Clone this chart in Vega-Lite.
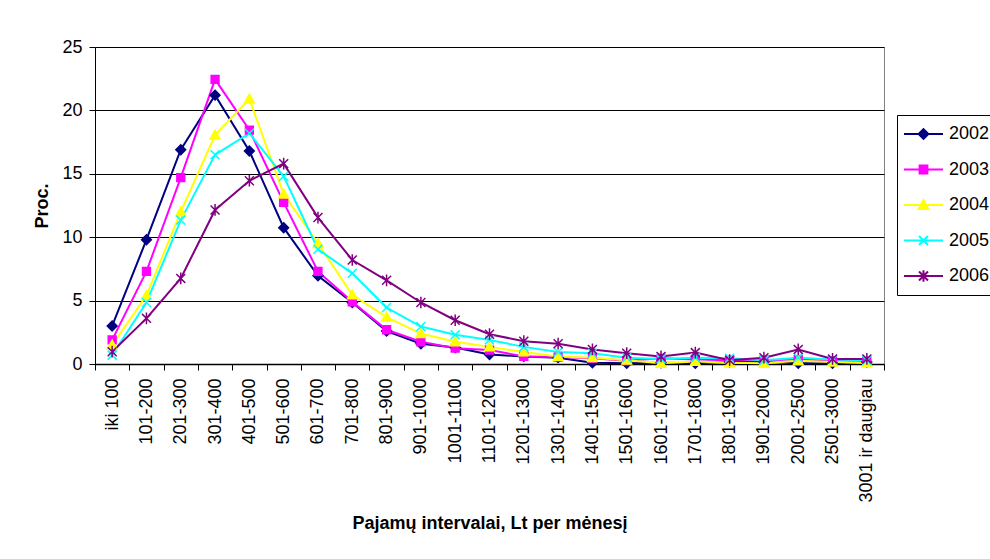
{
  "$schema": "https://vega.github.io/schema/vega-lite/v6.json",
  "autosize": {"type": "none"},
  "width": 789,
  "height": 317,
  "padding": {"left": 95, "top": 47, "right": 106, "bottom": 195},
  "background": "white",
  "config": {
    "font": "Liberation Sans",
    "view": {"stroke": "#808080", "strokeWidth": 1},
    "axis": {"labelFont": "Liberation Sans", "titleFont": "Liberation Sans", "labelColor": "#000", "titleColor": "#000", "domainColor": "#000", "tickColor": "#000"}
  },
  "data": {
    "values": [
      {"interval": "iki 100", "year": "2002", "value": 3.0},
      {"interval": "101-200", "year": "2002", "value": 9.8},
      {"interval": "201-300", "year": "2002", "value": 16.9},
      {"interval": "301-400", "year": "2002", "value": 21.2},
      {"interval": "401-500", "year": "2002", "value": 16.8},
      {"interval": "501-600", "year": "2002", "value": 10.75},
      {"interval": "601-700", "year": "2002", "value": 6.95},
      {"interval": "701-800", "year": "2002", "value": 4.85},
      {"interval": "801-900", "year": "2002", "value": 2.6},
      {"interval": "901-1000", "year": "2002", "value": 1.6},
      {"interval": "1001-1100", "year": "2002", "value": 1.3},
      {"interval": "1101-1200", "year": "2002", "value": 0.75},
      {"interval": "1201-1300", "year": "2002", "value": 0.6},
      {"interval": "1301-1400", "year": "2002", "value": 0.5},
      {"interval": "1401-1500", "year": "2002", "value": 0.1},
      {"interval": "1501-1600", "year": "2002", "value": 0.05},
      {"interval": "1601-1700", "year": "2002", "value": 0.1},
      {"interval": "1701-1800", "year": "2002", "value": 0.05},
      {"interval": "1801-1900", "year": "2002", "value": 0.15},
      {"interval": "1901-2000", "year": "2002", "value": 0.15},
      {"interval": "2001-2500", "year": "2002", "value": 0.05},
      {"interval": "2501-3000", "year": "2002", "value": 0.05},
      {"interval": "3001 ir daugiau", "year": "2002", "value": 0.15},
      {"interval": "iki 100", "year": "2003", "value": 1.9},
      {"interval": "101-200", "year": "2003", "value": 7.3},
      {"interval": "201-300", "year": "2003", "value": 14.7},
      {"interval": "301-400", "year": "2003", "value": 22.45},
      {"interval": "401-500", "year": "2003", "value": 18.45},
      {"interval": "501-600", "year": "2003", "value": 12.75},
      {"interval": "601-700", "year": "2003", "value": 7.3},
      {"interval": "701-800", "year": "2003", "value": 4.9},
      {"interval": "801-900", "year": "2003", "value": 2.7},
      {"interval": "901-1000", "year": "2003", "value": 1.75},
      {"interval": "1001-1100", "year": "2003", "value": 1.25},
      {"interval": "1101-1200", "year": "2003", "value": 1.1},
      {"interval": "1201-1300", "year": "2003", "value": 0.6},
      {"interval": "1301-1400", "year": "2003", "value": 0.55},
      {"interval": "1401-1500", "year": "2003", "value": 0.45},
      {"interval": "1501-1600", "year": "2003", "value": 0.25},
      {"interval": "1601-1700", "year": "2003", "value": 0.45},
      {"interval": "1701-1800", "year": "2003", "value": 0.35},
      {"interval": "1801-1900", "year": "2003", "value": 0.3},
      {"interval": "1901-2000", "year": "2003", "value": 0.3},
      {"interval": "2001-2500", "year": "2003", "value": 0.35},
      {"interval": "2501-3000", "year": "2003", "value": 0.25},
      {"interval": "3001 ir daugiau", "year": "2003", "value": 0.2},
      {"interval": "iki 100", "year": "2004", "value": 1.5},
      {"interval": "101-200", "year": "2004", "value": 5.4},
      {"interval": "201-300", "year": "2004", "value": 12.0},
      {"interval": "301-400", "year": "2004", "value": 18.05},
      {"interval": "401-500", "year": "2004", "value": 20.9},
      {"interval": "501-600", "year": "2004", "value": 13.4},
      {"interval": "601-700", "year": "2004", "value": 9.5},
      {"interval": "701-800", "year": "2004", "value": 5.45},
      {"interval": "801-900", "year": "2004", "value": 3.7},
      {"interval": "901-1000", "year": "2004", "value": 2.4},
      {"interval": "1001-1100", "year": "2004", "value": 1.75},
      {"interval": "1101-1200", "year": "2004", "value": 1.35},
      {"interval": "1201-1300", "year": "2004", "value": 0.95},
      {"interval": "1301-1400", "year": "2004", "value": 0.6},
      {"interval": "1401-1500", "year": "2004", "value": 0.5},
      {"interval": "1501-1600", "year": "2004", "value": 0.3},
      {"interval": "1601-1700", "year": "2004", "value": 0.05},
      {"interval": "1701-1800", "year": "2004", "value": 0.2},
      {"interval": "1801-1900", "year": "2004", "value": 0.1},
      {"interval": "1901-2000", "year": "2004", "value": 0.05},
      {"interval": "2001-2500", "year": "2004", "value": 0.25},
      {"interval": "2501-3000", "year": "2004", "value": 0.15},
      {"interval": "3001 ir daugiau", "year": "2004", "value": 0.1},
      {"interval": "iki 100", "year": "2005", "value": 0.7},
      {"interval": "101-200", "year": "2005", "value": 4.85},
      {"interval": "201-300", "year": "2005", "value": 11.35},
      {"interval": "301-400", "year": "2005", "value": 16.5},
      {"interval": "401-500", "year": "2005", "value": 18.2},
      {"interval": "501-600", "year": "2005", "value": 14.8},
      {"interval": "601-700", "year": "2005", "value": 9.05},
      {"interval": "701-800", "year": "2005", "value": 7.15},
      {"interval": "801-900", "year": "2005", "value": 4.45},
      {"interval": "901-1000", "year": "2005", "value": 2.95},
      {"interval": "1001-1100", "year": "2005", "value": 2.3},
      {"interval": "1101-1200", "year": "2005", "value": 1.9},
      {"interval": "1201-1300", "year": "2005", "value": 1.35},
      {"interval": "1301-1400", "year": "2005", "value": 0.95},
      {"interval": "1401-1500", "year": "2005", "value": 0.85},
      {"interval": "1501-1600", "year": "2005", "value": 0.5},
      {"interval": "1601-1700", "year": "2005", "value": 0.4},
      {"interval": "1701-1800", "year": "2005", "value": 0.5},
      {"interval": "1801-1900", "year": "2005", "value": 0.45},
      {"interval": "1901-2000", "year": "2005", "value": 0.3},
      {"interval": "2001-2500", "year": "2005", "value": 0.5},
      {"interval": "2501-3000", "year": "2005", "value": 0.35},
      {"interval": "3001 ir daugiau", "year": "2005", "value": 0.3},
      {"interval": "iki 100", "year": "2006", "value": 0.97},
      {"interval": "101-200", "year": "2006", "value": 3.6},
      {"interval": "201-300", "year": "2006", "value": 6.75},
      {"interval": "301-400", "year": "2006", "value": 12.15},
      {"interval": "401-500", "year": "2006", "value": 14.45},
      {"interval": "501-600", "year": "2006", "value": 15.8},
      {"interval": "601-700", "year": "2006", "value": 11.55},
      {"interval": "701-800", "year": "2006", "value": 8.2},
      {"interval": "801-900", "year": "2006", "value": 6.6},
      {"interval": "901-1000", "year": "2006", "value": 4.85},
      {"interval": "1001-1100", "year": "2006", "value": 3.45},
      {"interval": "1101-1200", "year": "2006", "value": 2.35},
      {"interval": "1201-1300", "year": "2006", "value": 1.8},
      {"interval": "1301-1400", "year": "2006", "value": 1.6},
      {"interval": "1401-1500", "year": "2006", "value": 1.15},
      {"interval": "1501-1600", "year": "2006", "value": 0.85},
      {"interval": "1601-1700", "year": "2006", "value": 0.6},
      {"interval": "1701-1800", "year": "2006", "value": 0.9},
      {"interval": "1801-1900", "year": "2006", "value": 0.3},
      {"interval": "1901-2000", "year": "2006", "value": 0.5},
      {"interval": "2001-2500", "year": "2006", "value": 1.15},
      {"interval": "2501-3000", "year": "2006", "value": 0.4},
      {"interval": "3001 ir daugiau", "year": "2006", "value": 0.4}
    ]
  },
  "encoding": {
    "x": {
      "field": "interval",
      "type": "ordinal",
      "sort": null,
      "scale": {"type": "band", "paddingInner": 0, "paddingOuter": 0},
      "axis": {
        "title": "Pajamų intervalai, Lt per mėnesį",
        "titleFontSize": 18,
        "titleFontWeight": "bold",
        "titlePadding": 12,
        "labelAngle": 270,
        "labelFontSize": 18,
        "labelPadding": 8,
        "tickBand": "extent",
        "tickSize": 6,
        "domainWidth": 1.5,
        "grid": false
      }
    },
    "y": {
      "field": "value",
      "type": "quantitative",
      "scale": {"domain": [0, 25], "nice": false},
      "axis": {
        "title": "Proc.",
        "titleFontSize": 18,
        "titleFontWeight": "bold",
        "titlePadding": 10,
        "values": [0, 5, 10, 15, 20, 25],
        "labelFontSize": 18,
        "labelPadding": 7,
        "tickSize": 6,
        "grid": true,
        "gridColor": "#000",
        "gridWidth": 1,
        "gridOpacity": 1
      }
    }
  },
  "layer": [
    {
      "mark": {"type": "line", "strokeWidth": 2},
      "encoding": {
        "color": {
          "field": "year",
          "type": "nominal",
          "scale": {"domain": ["2002", "2003", "2004", "2005", "2006"], "range": ["#000080", "#FF00FF", "#FFFF00", "#00FFFF", "#800080"]},
          "legend": {
            "orient": "none", "legendX": 802, "legendY": 68, "title": null,
            "symbolType": "stroke", "symbolSize": 1521, "symbolStrokeWidth": 2,
            "clipHeight": 26, "rowPadding": 9.5, "padding": 6,
            "strokeColor": "#000",
            "labelFontSize": 18, "labelFont": "Liberation Sans", "labelOffset": 5, "labelColor": "#000"
          }
        }
      }
    },
    {
      "mark": {"type": "point", "filled": true, "size": 1521, "strokeWidth": 1.5, "opacity": 1},
      "encoding": {
        "fill": {
          "field": "year", "type": "nominal",
          "scale": {"range": ["#000080", "#FF00FF", "#FFFF00", "#00FFFF", "#800080"]},
          "legend": {
            "orient": "none", "legendX": 802, "legendY": 68, "title": null,
            "symbolSize": 1521, "symbolStrokeWidth": 2,
            "clipHeight": 26, "rowPadding": 9.5, "padding": 6,
            "labelFontSize": 18, "labelFont": "Liberation Sans", "labelOffset": 5, "labelOpacity": 0
          }
        },
        "stroke": {
          "field": "year", "type": "nominal",
          "scale": {"range": ["#000080", "#FF00FF", "#FFFF00", "#00FFFF", "#800080"]},
          "legend": {
            "orient": "none", "legendX": 802, "legendY": 68, "title": null,
            "symbolSize": 1521, "symbolStrokeWidth": 2,
            "clipHeight": 26, "rowPadding": 9.5, "padding": 6,
            "labelFontSize": 18, "labelFont": "Liberation Sans", "labelOffset": 5, "labelOpacity": 0
          }
        },
        "shape": {
          "field": "year", "type": "nominal",
          "scale": {"range": [
            "M0,-0.25L0.25,0L0,0.25L-0.25,0Z",
            "M-0.2,-0.2H0.2V0.2H-0.2Z",
            "M0,-0.25L0.25,0.2L-0.25,0.2Z",
            "M-0.23,-0.23L0.23,0.23M-0.23,0.23L0.23,-0.23",
            "M-0.23,-0.23L0.23,0.23M-0.23,0.23L0.23,-0.23M0,-0.3L0,0.3"
          ]},
          "legend": {
            "orient": "none", "legendX": 802, "legendY": 68, "title": null,
            "symbolSize": 1521, "symbolStrokeWidth": 2,
            "clipHeight": 26, "rowPadding": 9.5, "padding": 6,
            "labelFontSize": 18, "labelFont": "Liberation Sans", "labelOffset": 5, "labelOpacity": 0
          }
        }
      }
    }
  ]
}
